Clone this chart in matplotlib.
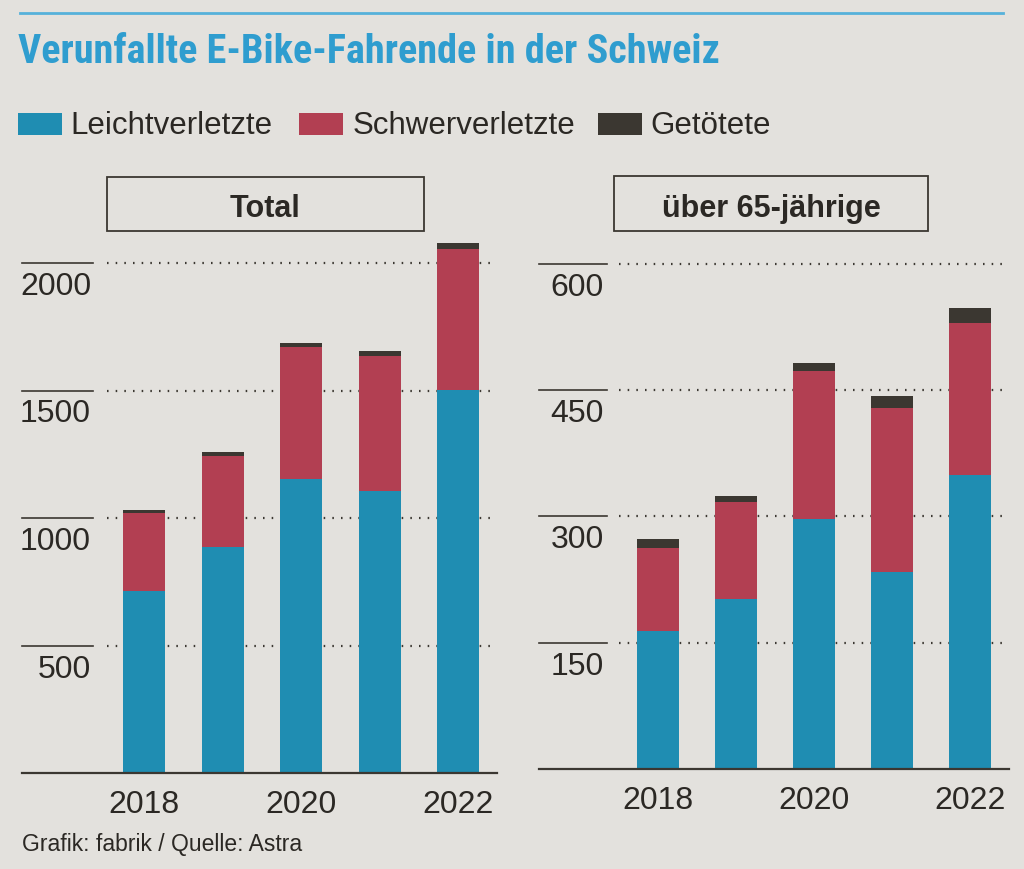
import matplotlib
matplotlib.use("Agg")
import os
import matplotlib.pyplot as plt
from matplotlib.patches import Rectangle
from matplotlib import transforms, font_manager
from matplotlib.font_manager import FontProperties

# ---------------- data ----------------
years = [2018, 2019, 2020, 2021, 2022]
year_labels = ["2018", "", "2020", "", "2022"]

total_leicht = [714, 886, 1153, 1106, 1502]
total_schwer = [306, 357, 518, 529, 553]
total_tot = [13, 14, 17, 18, 25]

senior_leicht = [164, 202, 297, 234, 349]
senior_schwer = [99, 115, 176, 195, 181]
senior_tot = [10, 7, 9, 14, 18]

total_ticks = [500, 1000, 1500, 2000]
senior_ticks = [150, 300, 450, 600]

series_names = ["Leichtverletzte", "Schwerverletzte", "Getötete"]
panel_titles = ["Total", "über 65-jährige"]
title = "Verunfallte E-Bike-Fahrende in der Schweiz"
source = "Grafik: fabrik / Quelle: Astra"

# ---------------- style ----------------
W, H = 1024, 869
BG = "#e3e1dd"
BLUE = "#1f8db2"
RED = "#b23f52"
DARK = "#3b3731"
TITLE_BLUE = "#2f9dcf"
TXT = "#2b2824"

names = {f.name for f in font_manager.fontManager.ttflist}
BODY = "Liberation Sans" if "Liberation Sans" in names else "DejaVu Sans"
plt.rcParams["font.family"] = [BODY, "DejaVu Sans"]

# find a proportional condensed bold font for the headline
prio = ["roboto", "liberation", "notosans", "opensans", "lato", "dejavusans"]
cands = []
for p in font_manager.findSystemFonts():
    b = os.path.basename(p).lower().replace("_", "").replace("-", "").replace(" ", "")
    if not ("condensed" in b or "narrow" in b):
        continue
    if "bold" not in b:
        continue
    if any(k in b for k in ["semibold", "extrabold", "italic", "mono", "serif",
                            "light", "black", "semicondensed", "extracondensed",
                            "oblique", "cjk"]):
        continue
    rank = len(prio)
    for i, k in enumerate(prio):
        if b.startswith(k):
            rank = i
            break
    cands.append((rank, b, p))
if cands:
    cands.sort()
    title_fp = FontProperties(fname=cands[0][2], size=27)
else:
    title_fp = FontProperties(family=[BODY], weight="bold", size=24)

fig = plt.figure(figsize=(W / 100, H / 100), dpi=100, facecolor=BG)


def fx(px):
    return px / W


def fy(py):
    return 1 - py / H


def make_panel(x0, x1, center0, step, y0, scale, ytop, leicht, schwer, tot, ticks,
               tick_end_px, grid_start_px, grid_end_px, label_right_px):
    ymax = (y0 - ytop) / scale
    ax = fig.add_axes([fx(x0), fy(y0), fx(x1 - x0), (y0 - ytop) / H])
    ax.set_facecolor("none")
    xl = (x0 - center0) / step
    xr = (x1 - center0) / step
    ax.set_xlim(xl, xr)
    ax.set_ylim(0, ymax)
    ax.axis("off")
    xs = list(range(len(years)))
    w = 42 / step
    gs = (grid_start_px - center0) / step
    ge = (grid_end_px - center0) / step
    te = (tick_end_px - center0) / step
    lab_x = (label_right_px - center0) / step
    off = transforms.offset_copy(ax.transData, fig=fig, x=0, y=-32, units="dots")
    for t in ticks:
        ax.plot([gs, ge], [t, t], color=DARK, lw=1.6, ls=(0, (0.7, 3.2)),
                zorder=1, clip_on=False)
        ax.plot([xl, te], [t, t], color=DARK, lw=1.2, zorder=1, clip_on=False)
        ax.text(lab_x, t, f"{t}", ha="right", va="baseline", fontsize=23,
                color=TXT, transform=off)
    b1 = [a + b for a, b in zip(leicht, schwer)]
    ax.bar(xs, leicht, width=w, color=BLUE, zorder=3)
    ax.bar(xs, schwer, width=w, bottom=leicht, color=RED, zorder=3)
    ax.bar(xs, tot, width=w, bottom=b1, color=DARK, zorder=3)
    ax.plot([xl, xr], [0, 0], color=DARK, lw=1.6, zorder=4, clip_on=False)
    offx = transforms.offset_copy(ax.transData, fig=fig, x=0, y=-40, units="dots")
    for x, lab in zip(xs, year_labels):
        if lab:
            ax.text(x, 0, lab, ha="center", va="baseline", fontsize=23,
                    color=TXT, transform=offx)
    return ax


make_panel(22, 497, 144, 78.5, 773, 0.255, 232, total_leicht, total_schwer,
           total_tot, total_ticks, 93, 107, 490, 91)
make_panel(539, 1009, 658, 78.1, 769, 0.8417, 232, senior_leicht, senior_schwer,
           senior_tot, senior_ticks, 607, 619, 1002, 604)

# panel title boxes
for (bx0, by0, bx1, by1), t in zip([(107, 177, 424, 231), (614, 176, 928, 231)],
                                   panel_titles):
    fig.add_artist(Rectangle((fx(bx0), fy(by1)), fx(bx1 - bx0), (by1 - by0) / H,
                             transform=fig.transFigure, fill=False,
                             edgecolor=DARK, lw=1.3))
    fig.text(fx((bx0 + bx1) / 2), fy(217), t, ha="center", va="baseline",
             fontsize=22, fontweight="bold", color=TXT)

# top rule and title
fig.add_artist(plt.Line2D([fx(20), fx(1003)], [fy(13), fy(13)],
                          transform=fig.transFigure, color="#56b1da", lw=2))
ttl = fig.text(fx(18), fy(63), title, ha="left", va="baseline",
               fontproperties=title_fp, color=TITLE_BLUE)

# fit the headline to its width in the reference (ends near x=722)
fig.canvas.draw()
bb = ttl.get_window_extent()
if bb.width > 0:
    new = title_fp.get_size_in_points() * 704 / bb.width
    new = min(new, 30)
    title_fp.set_size(new)
    ttl.set_fontproperties(title_fp)

# legend
leg = [(18, 70), (299, 353), (598, 650)]
for (sx, tx), name, c in zip(leg, series_names, [BLUE, RED, DARK]):
    fig.add_artist(Rectangle((fx(sx), fy(135)), fx(44), 22 / H,
                             transform=fig.transFigure, color=c, lw=0))
    fig.text(fx(tx), fy(134), name, ha="left", va="baseline", fontsize=22.5,
             color=TXT)

fig.text(fx(22), fy(851), source, ha="left", va="baseline", fontsize=16.5,
         color=TXT)

fig.savefig("out.png", dpi=100, facecolor=BG)
